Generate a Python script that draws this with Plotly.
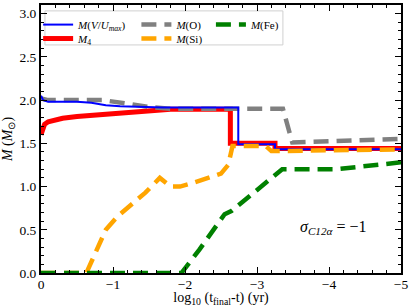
import plotly.graph_objects as go

# ---- data ----
blue_x = [0, -0.03, -0.1, -0.3, -0.5, -0.7, -0.9, -1.1, -1.4, -1.7, -2.0, -2.74, -2.74, -3.25, -3.25, -5]
blue_y = [2.05, 2.0, 1.98, 1.98, 1.98, 1.97, 1.94, 1.93, 1.92, 1.915, 1.915, 1.915, 1.49, 1.49, 1.43, 1.43]

red_x = [0, -0.02, -0.05, -0.1, -0.2, -0.3, -0.5, -0.8, -1.1, -1.4, -1.8, -2.63, -2.63, -3.25, -3.25, -5]
red_y = [1.60, 1.67, 1.72, 1.75, 1.77, 1.79, 1.81, 1.83, 1.85, 1.87, 1.895, 1.895, 1.50, 1.50, 1.44, 1.44]

gray_x = [0, -0.1, -0.5, -0.85, -1.2, -1.5, -1.8, -3.36, -3.49, -4.0, -5]
gray_y = [2.02, 2.0, 2.0, 2.0, 1.96, 1.92, 1.90, 1.90, 1.51, 1.52, 1.55]

orange_x = [0, -0.63, -0.9, -1.07, -1.45, -1.65, -1.8, -1.93, -2.1, -2.5, -2.6, -2.66, -3.12, -3.2, -5]
orange_y = [0, 0, 0.5, 0.66, 0.93, 1.1, 1.0, 1.0, 1.04, 1.15, 1.25, 1.47, 1.47, 1.41, 1.43]

green_x = [0, -1.95, -2.2, -2.4, -2.55, -2.65, -3.35, -4.1, -5]
green_y = [0, 0, 0.27, 0.5, 0.68, 0.72, 1.2, 1.2, 1.28]

x_ticks = [0, -1, -2, -3, -4, -5]
y_ticks = [0.0, 0.5, 1.0, 1.5, 2.0, 2.5, 3.0]

FONT = "Liberation Serif"
DASH = "15px,8px"

fig = go.Figure()
fig.add_trace(go.Scatter(x=red_x, y=red_y, mode="lines", line=dict(color="red", width=5),
                         name="<i>M</i><sub>4</sub>", legend="legend2"))
fig.add_trace(go.Scatter(x=gray_x, y=gray_y, mode="lines", line=dict(color="gray", width=4.5, dash=DASH),
                         name="<i>M</i>(O)", legend="legend3"))
fig.add_trace(go.Scatter(x=blue_x, y=blue_y, mode="lines", line=dict(color="blue", width=2),
                         name="<i>M</i>(<i>V</i>/<i>U</i><sub><i>max</i></sub>)", legend="legend"))
fig.add_trace(go.Scatter(x=orange_x, y=orange_y, mode="lines", line=dict(color="orange", width=4.5, dash=DASH),
                         name="<i>M</i>(Si)", legend="legend4"))
fig.add_trace(go.Scatter(x=green_x, y=green_y, mode="lines", line=dict(color="green", width=4.5, dash=DASH),
                         name="<i>M</i>(Fe)", legend="legend5"))

leg_common = dict(bgcolor="rgba(0,0,0,0)", borderwidth=0, font=dict(family=FONT, size=11, color="black"),
                  xanchor="left", yanchor="top", tracegroupgap=0, itemwidth=30)
r1, r2 = 0.981, 0.929
c1, c2, c3 = -0.008, 0.265, 0.472
fig.update_layout(
    width=409, height=307,
    margin=dict(l=41, r=8, t=5, b=34),
    paper_bgcolor="white", plot_bgcolor="white",
    font=dict(family=FONT, size=14, color="black"),
    showlegend=True,
    legend=dict(x=c1, y=r1, **leg_common),
    legend2=dict(x=c1, y=r2, **leg_common),
    legend3=dict(x=c2, y=r1, **leg_common),
    legend4=dict(x=c2, y=r2, **leg_common),
    legend5=dict(x=c3, y=r1, **leg_common),
)
fig.add_shape(type="rect", xref="paper", yref="paper", x0=0.011, x1=0.672, y0=0.851, y1=0.978,
              line=dict(color="#d0d0d0", width=1), fillcolor="rgba(255,255,255,0)", layer="below")

axis_common = dict(showline=True, linewidth=2, linecolor="black", mirror="allticks",
                   ticks="inside", ticklen=6, tickwidth=1.2, tickcolor="black",
                   showgrid=False, zeroline=False,
                   tickfont=dict(family=FONT, size=13.5, color="black"))
fig.update_xaxes(range=[0, -5], tickvals=x_ticks, ticktext=[("−%d" % -v) if v else "0" for v in x_ticks],
                 minor=dict(dtick=0.2, ticks="inside", ticklen=3, tickcolor="black", showgrid=False),
                 ticklabelstandoff=-2,
                 title=dict(text="log<sub>10</sub> (t<sub>final</sub>-t) (yr)", standoff=5,
                            font=dict(family=FONT, size=14)),
                 automargin=False, **axis_common)
fig.update_yaxes(range=[0, 3.1], tickvals=y_ticks, ticktext=["%.1f" % v for v in y_ticks],
                 minor=dict(dtick=0.1, ticks="inside", ticklen=3, tickcolor="black", showgrid=False),
                 title=dict(text="<i>M</i> (<i>M</i><sub>⊙</sub>)", standoff=4,
                            font=dict(family=FONT, size=14)),
                 automargin=False, **axis_common)

fig.add_annotation(x=-4.06, y=0.53, xref="x", yref="y", showarrow=False,
                   text="<i>σ</i><sub><i>C12α</i></sub> = −1",
                   font=dict(family=FONT, size=16, color="black"))

fig.write_html("out.html", config={"displayModeBar": False},
               post_script="document.body.style.margin='0';document.body.style.overflow='hidden';")
